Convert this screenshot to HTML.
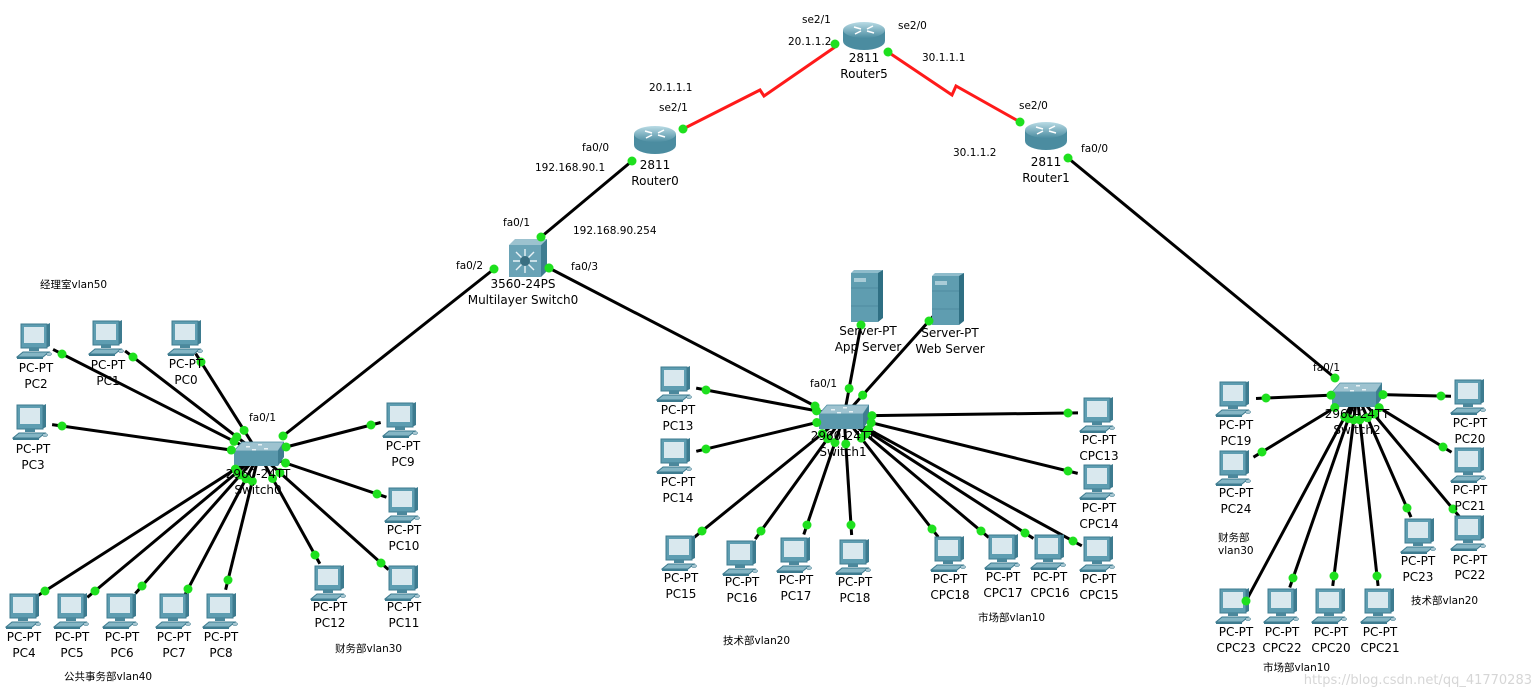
<!DOCTYPE html>
<html><head><meta charset="utf-8">
<style>
html,body{margin:0;padding:0;background:#fff;}
svg{display:block;}
text{font-family:"DejaVu Sans","Liberation Sans","Noto Sans CJK SC",sans-serif;fill:#000;}
.lb{font-size:12px;text-anchor:middle;}
.pt{font-size:10.5px;}
.cn{font-size:10.5px;font-family:"Liberation Sans","Noto Sans CJK SC",sans-serif;}
</style></head>
<body>
<svg id="s" width="1536" height="697" viewBox="0 0 1536 697" xmlns="http://www.w3.org/2000/svg">
<defs>
<linearGradient id="rg" x1="0" y1="0" x2="0" y2="1"><stop offset="0" stop-color="#b9dbe5"/><stop offset="1" stop-color="#4d8ea2"/></linearGradient>
<symbol id="pc" viewBox="0 0 36 36" width="36" height="36">
<polygon points="30,2 34,0 34,23 30,25" fill="#3d7b8f"/>
<rect x="5" y="1" width="26" height="24" fill="#5e9db1" stroke="#3d7b8f" stroke-width="1"/>
<rect x="8" y="4" width="20" height="16" fill="#d9e8ee"/>
<rect x="13" y="25" width="10" height="3" fill="#4b889c"/>
<polygon points="1,34 27,34 33,29 7,29" fill="#84b5c4" stroke="#3d7b8f" stroke-width="1"/>
<rect x="1" y="34" width="26" height="2" fill="#3d7b8f"/>
<ellipse cx="33" cy="31" rx="2.5" ry="1.5" fill="#a8c8d3" stroke="#3d7b8f" stroke-width=".6"/>
</symbol>
<symbol id="sw" viewBox="0 0 50 25" width="50" height="25">
<polygon points="0,10 8,1 50,1 44,10" fill="#9ec3d0" stroke="#4f8ea3" stroke-width=".8"/>
<rect x="0" y="10" width="44" height="15" fill="#5a98ac"/>
<polygon points="44,10 50,1 50,16 44,25" fill="#3f7d91"/>
<g fill="#e8f2f5"><rect x="12" y="5" width="4" height="1.5"/><rect x="24" y="3" width="4" height="1.5"/><rect x="30" y="7" width="4" height="1.5"/><rect x="18" y="8" width="4" height="1.5"/></g>
</symbol>
<symbol id="rt" viewBox="0 0 44 30" width="44" height="30">
<path d="M1,9 L1,20 A21,9 0 0 0 43,20 L43,9 Z" fill="#4b8ca0"/>
<ellipse cx="22" cy="9" rx="21" ry="8" fill="url(#rg)"/>
<g stroke="#ffffff" stroke-width="1.5"><line x1="12" y1="6" x2="19" y2="8"/><line x1="25" y1="10" x2="32" y2="12"/><line x1="25" y1="8" x2="31" y2="5"/><line x1="13" y1="13" x2="19" y2="10"/></g>
</symbol>
<symbol id="ml" viewBox="0 0 38 38" width="38" height="38">
<polygon points="0,6 6,0 38,0 32,6" fill="#9cc2cf"/>
<rect x="0" y="6" width="32" height="32" fill="#6aa3b6"/>
<polygon points="32,6 38,0 38,32 32,38" fill="#3f7d91"/>
<g stroke="#e8f2f5" stroke-width="1.4"><line x1="16" y1="10" x2="16" y2="34"/><line x1="4" y1="22" x2="28" y2="22"/><line x1="7" y1="13" x2="25" y2="31"/><line x1="25" y1="13" x2="7" y2="31"/></g>
<circle cx="16" cy="22" r="5" fill="#3a6f82"/>
</symbol>
<symbol id="sv" viewBox="0 0 32 52" width="32" height="52">
<polygon points="0,3 3,0 32,0 29,3" fill="#8fbccb"/>
<rect x="0" y="3" width="27" height="49" fill="#5f9db0"/>
<polygon points="27,3 32,0 32,48 27,52" fill="#2f6f83"/>
<rect x="3" y="8" width="12" height="4" fill="#a9ccd7"/>
<line x1="0" y1="18" x2="27" y2="18" stroke="#4f8ca0"/>
<line x1="0" y1="36" x2="27" y2="36" stroke="#4f8ca0"/>
</symbol>
</defs>
<g id="links" stroke="#000" stroke-width="3"></g>
<g id="icons">
<use href="#rt" x="633" y="125"/>
<use href="#rt" x="842" y="21"/>
<use href="#rt" x="1024" y="121"/>
<use href="#ml" x="509" y="239"/>
<use href="#sv" x="851" y="270"/>
<use href="#sv" x="932" y="273"/>
<use href="#sw" x="234" y="441"/>
<use href="#sw" x="819" y="404"/>
<use href="#sw" x="1332" y="382"/>
<use href="#pc" x="16" y="323"/><use href="#pc" x="88" y="320"/><use href="#pc" x="167" y="320"/>
<use href="#pc" x="12" y="404"/><use href="#pc" x="382" y="402"/><use href="#pc" x="384" y="487"/>
<use href="#pc" x="384" y="565"/><use href="#pc" x="310" y="565"/>
<use href="#pc" x="5" y="593"/><use href="#pc" x="53" y="593"/><use href="#pc" x="102" y="593"/><use href="#pc" x="155" y="593"/><use href="#pc" x="202" y="593"/>
<use href="#pc" x="656" y="366"/><use href="#pc" x="656" y="438"/><use href="#pc" x="661" y="535"/>
<use href="#pc" x="722" y="540"/><use href="#pc" x="776" y="537"/><use href="#pc" x="835" y="539"/>
<use href="#pc" x="930" y="536"/><use href="#pc" x="984" y="534"/><use href="#pc" x="1030" y="534"/><use href="#pc" x="1079" y="536"/>
<use href="#pc" x="1079" y="397"/><use href="#pc" x="1079" y="464"/>
<use href="#pc" x="1215" y="381"/><use href="#pc" x="1215" y="450"/>
<use href="#pc" x="1450" y="379"/><use href="#pc" x="1450" y="447"/><use href="#pc" x="1450" y="515"/><use href="#pc" x="1400" y="518"/>
<use href="#pc" x="1215" y="588"/><use href="#pc" x="1263" y="588"/><use href="#pc" x="1311" y="588"/><use href="#pc" x="1360" y="588"/>
</g>
<g id="dots" fill="#1ee01e"></g>
<g class="lb">
<text x="655" y="169">2811</text><text x="655" y="185">Router0</text>
<text x="864" y="62">2811</text><text x="864" y="78">Router5</text>
<text x="1046" y="166">2811</text><text x="1046" y="182">Router1</text>
<text x="523" y="288">3560-24PS</text><text x="523" y="304">Multilayer Switch0</text>
<text x="868" y="335">Server-PT</text><text x="868" y="351">App Server</text>
<text x="950" y="337">Server-PT</text><text x="950" y="353">Web Server</text>
<text x="258" y="478">2960-24TT</text><text x="258" y="494">Switch0</text>
<text x="843" y="440">2960-24TT</text><text x="843" y="456">Switch1</text>
<text x="1357" y="418">2960-24TT</text><text x="1357" y="434">Switch2</text>
<text x="36" y="372">PC-PT</text><text x="36" y="388">PC2</text>
<text x="108" y="369">PC-PT</text><text x="108" y="385">PC1</text>
<text x="186" y="368">PC-PT</text><text x="186" y="384">PC0</text>
<text x="33" y="453">PC-PT</text><text x="33" y="469">PC3</text>
<text x="403" y="450">PC-PT</text><text x="403" y="466">PC9</text>
<text x="404" y="534">PC-PT</text><text x="404" y="550">PC10</text>
<text x="404" y="611">PC-PT</text><text x="404" y="627">PC11</text>
<text x="330" y="611">PC-PT</text><text x="330" y="627">PC12</text>
<text x="24" y="641">PC-PT</text><text x="24" y="657">PC4</text>
<text x="72" y="641">PC-PT</text><text x="72" y="657">PC5</text>
<text x="122" y="641">PC-PT</text><text x="122" y="657">PC6</text>
<text x="174" y="641">PC-PT</text><text x="174" y="657">PC7</text>
<text x="221" y="641">PC-PT</text><text x="221" y="657">PC8</text>
<text x="678" y="414">PC-PT</text><text x="678" y="430">PC13</text>
<text x="678" y="486">PC-PT</text><text x="678" y="502">PC14</text>
<text x="681" y="582">PC-PT</text><text x="681" y="598">PC15</text>
<text x="742" y="586">PC-PT</text><text x="742" y="602">PC16</text>
<text x="796" y="584">PC-PT</text><text x="796" y="600">PC17</text>
<text x="855" y="586">PC-PT</text><text x="855" y="602">PC18</text>
<text x="950" y="583">PC-PT</text><text x="950" y="599">CPC18</text>
<text x="1003" y="581">PC-PT</text><text x="1003" y="597">CPC17</text>
<text x="1050" y="581">PC-PT</text><text x="1050" y="597">CPC16</text>
<text x="1099" y="583">PC-PT</text><text x="1099" y="599">CPC15</text>
<text x="1099" y="444">PC-PT</text><text x="1099" y="460">CPC13</text>
<text x="1099" y="512">PC-PT</text><text x="1099" y="528">CPC14</text>
<text x="1236" y="429">PC-PT</text><text x="1236" y="445">PC19</text>
<text x="1236" y="497">PC-PT</text><text x="1236" y="513">PC24</text>
<text x="1470" y="427">PC-PT</text><text x="1470" y="443">PC20</text>
<text x="1470" y="494">PC-PT</text><text x="1470" y="510">PC21</text>
<text x="1470" y="564">PC-PT</text><text x="1470" y="579">PC22</text>
<text x="1418" y="565">PC-PT</text><text x="1418" y="581">PC23</text>
<text x="1236" y="636">PC-PT</text><text x="1236" y="652">CPC23</text>
<text x="1282" y="636">PC-PT</text><text x="1282" y="652">CPC22</text>
<text x="1331" y="636">PC-PT</text><text x="1331" y="652">CPC20</text>
<text x="1380" y="636">PC-PT</text><text x="1380" y="652">CPC21</text>
</g>
<g class="pt">
<text x="802" y="23">se2/1</text><text x="788" y="45">20.1.1.2</text>
<text x="898" y="29">se2/0</text><text x="922" y="61">30.1.1.1</text>
<text x="649" y="91">20.1.1.1</text><text x="659" y="111">se2/1</text>
<text x="582" y="151">fa0/0</text><text x="535" y="171">192.168.90.1</text>
<text x="503" y="226">fa0/1</text><text x="573" y="234">192.168.90.254</text>
<text x="456" y="269">fa0/2</text><text x="571" y="270">fa0/3</text>
<text x="1019" y="109">se2/0</text><text x="953" y="156">30.1.1.2</text>
<text x="1081" y="152">fa0/0</text>
<text x="249" y="421">fa0/1</text><text x="810" y="387">fa0/1</text><text x="1313" y="371">fa0/1</text>
</g>
<g class="cn">
<text x="40" y="288">经理室vlan50</text>
<text x="64" y="680">公共事务部vlan40</text>
<text x="335" y="652">财务部vlan30</text>
<text x="723" y="644">技术部vlan20</text>
<text x="978" y="621">市场部vlan10</text>
<text x="1218" y="541">财务部</text><text x="1218" y="554">vlan30</text>
<text x="1411" y="604">技术部vlan20</text>
<text x="1263" y="671">市场部vlan10</text>
</g>
<text x="1532" y="684" text-anchor="end" style="font-size:13px;fill:#d6d6d6">https://blog.csdn.net/qq_41770283</text>
</svg>
<script>
(function(){
var NS="http://www.w3.org/2000/svg",L=document.getElementById("links"),D=document.getElementById("dots");
function ln(a,b,c,d,col){var e=document.createElementNS(NS,"line");e.setAttribute("x1",a);e.setAttribute("y1",b);e.setAttribute("x2",c);e.setAttribute("y2",d);if(col)e.setAttribute("stroke",col);L.appendChild(e);}
function dot(x,y){var c=document.createElementNS(NS,"circle");c.setAttribute("cx",x);c.setAttribute("cy",y);c.setAttribute("r",4.5);D.appendChild(c);}
function link(px,py,sx,sy,dd){var dx=px-sx,dy=py-sy,l=Math.sqrt(dx*dx+dy*dy),ux=dx/l,uy=dy/l;
ln(px+ux*10,py+uy*10,sx,sy);dot(px,py);dot(sx+ux*dd,sy+uy*dd);}
var S0=[259,454],S1=[844,416],S2=[1357,394];
[[62,354],[133,357],[201,362],[62,426],[371,425],[377,494],[381,563],[315,555],[45,591],[95,591],[142,586],[188,589],[228,580]].forEach(function(p){link(p[0],p[1],S0[0],S0[1],28);});
[[706,390],[706,449],[702,531],[761,531],[807,525],[851,525],[932,529],[981,531],[1025,533],[1073,541],[1068,413],[1068,471],[861,325],[929,321]].forEach(function(p){link(p[0],p[1],S1[0],S1[1],28);});
[[1266,398],[1262,452],[1441,396],[1443,447],[1453,509],[1407,508],[1246,601],[1293,578],[1334,576],[1377,576]].forEach(function(p){link(p[0],p[1],S2[0],S2[1],26);});
ln(1068,158,1335,378);dot(1068,158);dot(1335,378);
ln(632,161,541,237);dot(632,161);dot(541,237);
ln(494,269,283,436);dot(494,269);dot(283,436);
ln(549,268,815,406);dot(549,268);dot(549,268);dot(815,406);
var r=document.createElementNS(NS,"polyline");r.setAttribute("points","683,129 760,90 764,96 835,47");r.setAttribute("fill","none");r.setAttribute("stroke","#ff1a1a");L.appendChild(r);
var r2=document.createElementNS(NS,"polyline");r2.setAttribute("points","888,52 952,95 956,86 1020,122");r2.setAttribute("fill","none");r2.setAttribute("stroke","#ff1a1a");L.appendChild(r2);
dot(683,129);dot(835,44);dot(888,52);dot(1020,122);
})();
</script>
</body></html>
